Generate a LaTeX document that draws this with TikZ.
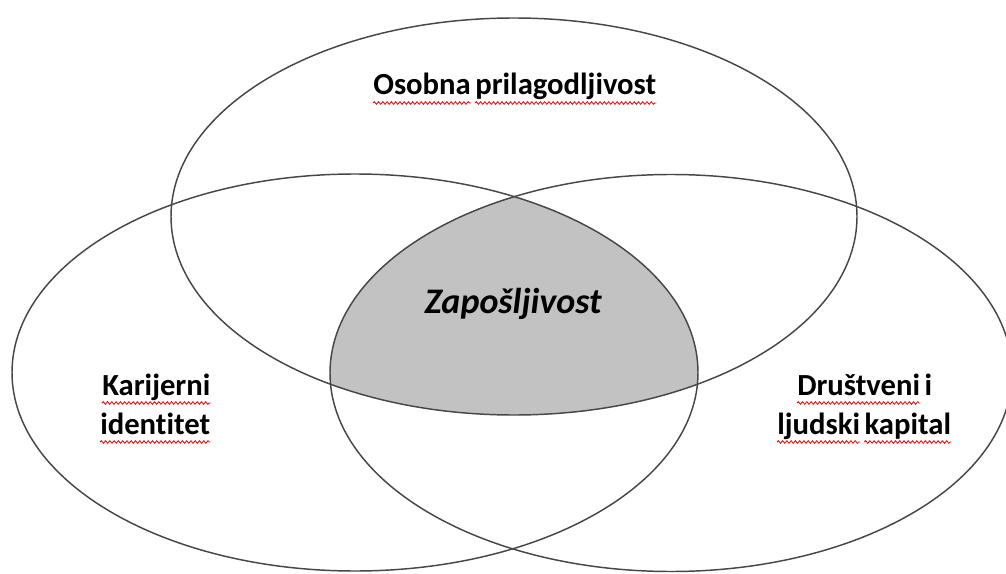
\documentclass[tikz,border=0pt]{standalone}
\usepackage{fontspec}
\setmainfont{Carlito}[Ligatures=NoCommon]
\usepackage{tikz}
\usetikzlibrary{positioning,decorations.pathmorphing}

\begin{document}
\begin{tikzpicture}[x=0.75pt,y=-0.75pt,
    ring/.style={draw=black!72, line width=1.1pt},
    core/.style={fill=black!24},
    word/.style={font=\fontsize{23}{28}\selectfont\bfseries, inner sep=0pt},
    wave/.style={draw=red, line width=0.6pt, decorate,
      decoration={snake, amplitude=1pt, segment length=3.2pt}}]
  \useasboundingbox (0,0) rectangle (1006,574);
  % shared part of all three
  \begin{scope}
    \clip (514,216.5) ellipse [x radius=343, y radius=198.5];
    \clip (355,372.5) ellipse [x radius=343, y radius=198.5];
    \fill[core] (671,373) ellipse [x radius=341, y radius=198.5];
  \end{scope}
  \draw[ring] (514,216.5) ellipse [x radius=343, y radius=198.5]; % top
  \draw[ring] (355,372.5) ellipse [x radius=343, y radius=198.5]; % left
  \draw[ring] (671,373) ellipse [x radius=341, y radius=198.5]; % right
  % labels
  \node[word, anchor=base west] (osobna) at (373,95) {Osobna};
  \node[word, base right=0.3em of osobna] (prilag) {prilagodljivost};
  \node[word, font=\fontsize{27}{32}\selectfont\bfseries\itshape, anchor=base] (zap) at (513,313) {Zapošljivost};
  \node[word, anchor=base west] (karij) at (102,395) {Karijerni};
  \node[word, anchor=base west] (ident) at (100,434) {identitet};
  \node[word, anchor=base west] (drust) at (797,395) {Društveni};
  \node[word, base right=0.3em of drust] (i) {i};
  \node[word, anchor=base west] (ljud) at (777,434) {ljudski};
  \node[word, base right=0.3em of ljud] (kap) {kapital};
  % spell-check squiggles
  \foreach \w in {osobna,prilag,karij,ident,drust,ljud,kap}
    \draw[wave] ([yshift=-6pt]\w.base west) -- ([yshift=-6pt]\w.base east);
\end{tikzpicture}
\end{document}
